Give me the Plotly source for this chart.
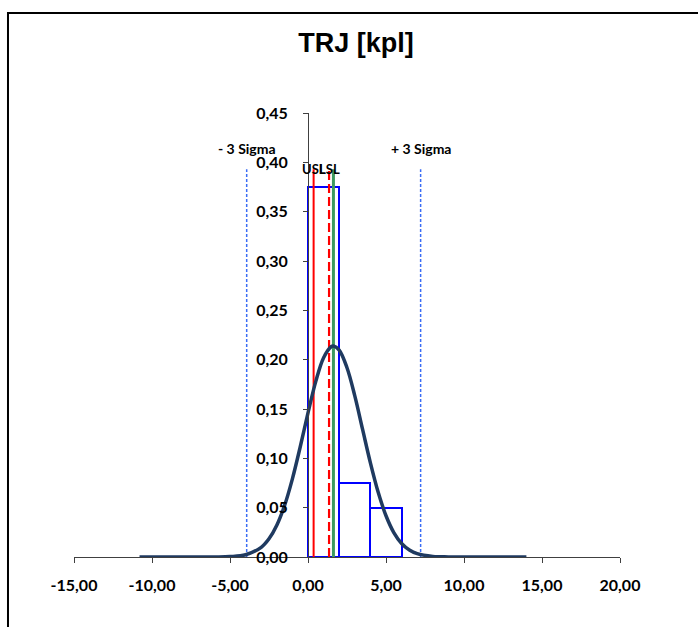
import plotly.graph_objects as go

# ---- data ----
bin_centers = [1.0, 3.0, 5.0]
bin_width = [2.0, 2.0, 2.0]
bin_density = [0.375, 0.075, 0.05]

curve_x = [-10.8, -8.0, -6.0, -5.0, -4.0, -3.0, -2.5, -2.0, -1.5, -1.0, -0.5, 0.0, 0.5,
           1.0, 1.5, 1.63, 2.0, 2.5, 3.0, 3.5, 4.0, 4.5, 5.0, 5.5, 6.0, 6.5, 7.0, 8.0,
           9.0, 10.0, 14.0]
curve_y = [0.0, 0.0, 0.00005, 0.00039, 0.00224, 0.00982, 0.01843, 0.0322, 0.0523, 0.0792,
           0.1115, 0.146, 0.178, 0.202, 0.2134, 0.2139, 0.2097, 0.1918, 0.1633, 0.1293,
           0.0954, 0.0655, 0.0418, 0.0248, 0.01374, 0.00708, 0.00339, 0.00063, 0.00009,
           0.00001, 0.0]

minus3sigma = -3.93
plus3sigma = 7.22
usl = 0.36
lsl = 1.35
mean = 1.63
line_top = 0.393
sigma_label_y = 0.4145
spec_label_y = 0.393

x_ticks = [-15, -10, -5, 0, 5, 10, 15, 20]
x_tick_labels = ["-15,00", "-10,00", "-5,00", "0,00", "5,00", "10,00", "15,00", "20,00"]
y_ticks = [0, 0.05, 0.10, 0.15, 0.20, 0.25, 0.30, 0.35, 0.40, 0.45]
y_tick_labels = ["0,00", "0,05", "0,10", "0,15", "0,20", "0,25", "0,30", "0,35", "0,40", "0,45"]
title = "TRJ [kpl]"

FONT = "Lato"

fig = go.Figure()

fig.add_trace(go.Bar(
    x=bin_centers, y=bin_density, width=bin_width,
    marker=dict(color="rgba(0,0,0,0)", line=dict(color="#0000FF", width=2)),
    showlegend=False, hoverinfo="skip"))

for xv in (minus3sigma, plus3sigma):
    fig.add_trace(go.Scatter(x=[xv, xv], y=[0, line_top], mode="lines",
                             line=dict(color="#3A6CF4", width=1.5, dash="3px,2px"),
                             showlegend=False, hoverinfo="skip"))

fig.add_trace(go.Scatter(x=[usl, usl], y=[0, line_top], mode="lines",
                         line=dict(color="#FF0000", width=2), showlegend=False))
fig.add_trace(go.Scatter(x=[lsl, lsl], y=[0, line_top], mode="lines",
                         line=dict(color="#FF0000", width=2.2, dash="9px,4px"), showlegend=False))
fig.add_trace(go.Scatter(x=[mean, mean], y=[0, line_top], mode="lines",
                         line=dict(color="#3C9A5F", width=3), showlegend=False))

fig.add_trace(go.Scatter(x=curve_x, y=curve_y, mode="lines", line_shape="spline",
                         line=dict(color="#1F3A60", width=3.5), showlegend=False))

for xv, txt in ((minus3sigma, "- 3 Sigma"), (plus3sigma, "+ 3 Sigma")):
    fig.add_annotation(x=xv, y=sigma_label_y, text=txt, showarrow=False,
                       font=dict(family=FONT, size=14, color="black", weight="bold"),
                       xanchor="center", yanchor="middle")
for xv, txt in ((usl, "USL"), (lsl, "LSL")):
    fig.add_annotation(x=xv, y=spec_label_y, text=txt, showarrow=False,
                       font=dict(family=FONT, size=13, color="black", weight="bold"),
                       xanchor="center", yanchor="middle")

# border
fig.add_shape(type="rect", xref="paper", yref="paper",
              x0=-0.1209, x1=1.25, y0=-0.3, y1=1.2252,
              line=dict(color="black", width=2), fillcolor="rgba(0,0,0,0)")

fig.update_layout(
    width=698, height=627,
    margin=dict(l=74, r=78, t=113, b=70),
    paper_bgcolor="white", plot_bgcolor="white",
    bargap=0,
    title=dict(text=title, x=356 / 698, xanchor="center", y=1 - 43 / 627, yanchor="middle",
               font=dict(family="Liberation Sans", size=27, color="black", weight="bold")),
    xaxis=dict(range=[-15, 20], tickvals=x_ticks, ticktext=x_tick_labels,
               showgrid=False, zeroline=False, showline=True, linecolor="#404040", linewidth=1,
               ticks="outside", ticklen=5, tickcolor="#404040", ticklabelstandoff=9,
               tickfont=dict(family=FONT, size=16, color="black", weight="bold")),
    yaxis=dict(range=[0, 0.45], tickvals=y_ticks, ticktext=y_tick_labels,
               anchor="free", position=(308 - 74) / 546,
               showgrid=False, zeroline=False, showline=True, linecolor="#404040", linewidth=1,
               ticks="outside", ticklen=5, tickcolor="#404040", ticklabelstandoff=12,
               tickfont=dict(family=FONT, size=16, color="black", weight="bold")),
)

fig.write_html("out.html", config={"displayModeBar": False},
               post_script="document.body.style.margin='0';document.body.style.overflow='hidden';")
